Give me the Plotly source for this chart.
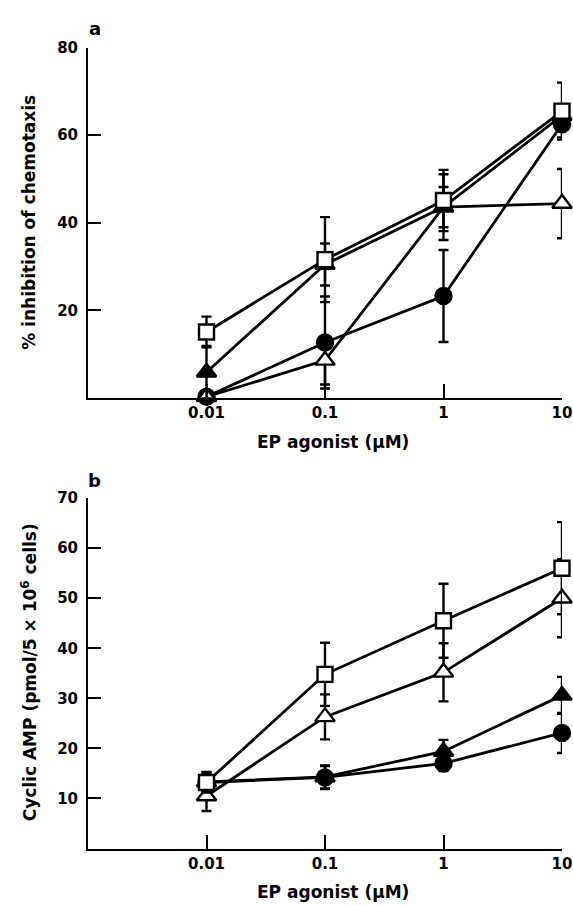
import plotly.graph_objects as go

# ---- data ----
doses = [0.01, 0.1, 1, 10]
tick_labels = ["0.01", "0.1", "1", "10"]

# panel a: % inhibition of chemotaxis
a_open_square = [15.1, 31.6, 45.1, 65.5]
a_open_square_err = [3.5, 9.7, 7.0, 6.5]
a_filled_triangle = [5.9, 30.5, 43.6, 64.5]
a_filled_triangle_err = [6.0, 4.8, 7.5, 2.5]
a_filled_circle = [0.3, 12.7, 23.3, 62.5]
a_filled_circle_err = [0.0, 10.5, 10.5, 3.0]
a_open_triangle = [0.3, 8.6, 43.6, 44.4]
a_open_triangle_err = [0.0, 5.5, 4.6, 7.9]

# panel b: cyclic AMP
b_open_square = [13.2, 34.8, 45.5, 56.0]
b_open_square_err = [2.0, 6.3, 7.4, 9.2]
b_open_triangle = [10.5, 26.3, 35.2, 50.0]
b_open_triangle_err = [3.0, 4.5, 5.8, 7.8]
b_filled_triangle = [13.3, 14.3, 19.4, 30.6]
b_filled_triangle_err = [2.0, 2.3, 2.3, 3.7]
b_filled_circle = [13.2, 14.2, 17.0, 23.1]
b_filled_circle_err = [1.8, 2.3, 1.5, 4.0]

a_yticks = [20, 40, 60, 80]
b_yticks = [10, 20, 30, 40, 50, 60, 70]

FONT = "DejaVu Sans"
W, H = 573, 905

fig = go.Figure()

styles = {
    "open_square": dict(symbol="square", color="white", size=15),
    "filled_triangle": dict(symbol="triangle-up", color="black", size=17),
    "filled_circle": dict(symbol="circle", color="black", size=16),
    "open_triangle": dict(symbol="triangle-up", color="white", size=17),
}


def add(y, err, style, xa, ya, name):
    st = styles[style]
    fig.add_trace(go.Scatter(
        x=doses, y=y, name=name, mode="lines+markers",
        xaxis=xa, yaxis=ya, cliponaxis=False, showlegend=False,
        line=dict(color="black", width=2.8),
        marker=dict(symbol=st["symbol"], size=st["size"], color=st["color"],
                    line=dict(color="black", width=2.4)),
        error_y=dict(type="data", array=err, visible=True, color="black",
                     thickness=2.4, width=5),
    ))


add(a_filled_circle, a_filled_circle_err, "filled_circle", "x", "y", "a ●")
add(a_open_triangle, a_open_triangle_err, "open_triangle", "x", "y", "a △")
add(a_filled_triangle, a_filled_triangle_err, "filled_triangle", "x", "y", "a ▲")
add(a_open_square, a_open_square_err, "open_square", "x", "y", "a □")

add(b_filled_circle, b_filled_circle_err, "filled_circle", "x2", "y2", "b ●")
add(b_filled_triangle, b_filled_triangle_err, "filled_triangle", "x2", "y2", "b ▲")
add(b_open_triangle, b_open_triangle_err, "open_triangle", "x2", "y2", "b △")
add(b_open_square, b_open_square_err, "open_square", "x2", "y2", "b □")

tickfont = dict(family=FONT, size=15, color="black", weight="bold")

xcommon = dict(type="log", range=[-3, 1], tickvals=doses, ticktext=tick_labels,
               ticks="inside", ticklen=14, tickwidth=2, tickcolor="black",
               showline=True, linecolor="black", linewidth=2, showgrid=False,
               zeroline=False, tickfont=tickfont, ticklabelstandoff=0)
ycommon = dict(ticks="inside", ticklen=13, tickwidth=2, tickcolor="black",
               showline=True, linecolor="black", linewidth=2, showgrid=False,
               zeroline=False, tickfont=tickfont, ticklabelstandoff=5)

# panel pixel rows
a_top, a_bot = 39, 393
b_top, b_bot = 494, 848

fig.update_layout(
    width=W, height=H,
    margin=dict(l=88, r=11, t=0, b=0),
    paper_bgcolor="white", plot_bgcolor="white",
    xaxis=dict(**xcommon, anchor="y"),
    yaxis=dict(**ycommon, range=[0, 80], tickvals=a_yticks,
               domain=[(H - a_bot) / H, (H - a_top) / H], anchor="x"),
    xaxis2=dict(**xcommon, anchor="y2"),
    yaxis2=dict(**ycommon, range=[0, 70], tickvals=b_yticks,
                domain=[(H - b_bot) / H, (H - b_top) / H], anchor="x2"),
)


def ann_px(text, xpx, ypx, angle=0, size=17, xanchor="center"):
    fig.add_annotation(text=text,
                       x=(xpx - 88) / (562 - 88), y=(H - ypx) / H,
                       xref="paper", yref="paper", showarrow=False, textangle=angle,
                       xanchor=xanchor, yanchor="middle",
                       font=dict(family=FONT, size=size, color="black", weight="bold"))


ann_px("a", 87, 20, size=18, xanchor="left")
ann_px("b", 86, 476, size=18, xanchor="left")
ann_px("EP agonist (μM)", 333, 437)
ann_px("EP agonist (μM)", 333, 892)
ann_px("% inhibition of chemotaxis", 29, 216, angle=-90)
ann_px("Cyclic AMP (pmol/5 × 10<sup>6</sup> cells)", 29, 670, angle=-90)

fig.write_html("out.html", config={"displayModeBar": False},
               post_script="document.body.style.margin='0';")
